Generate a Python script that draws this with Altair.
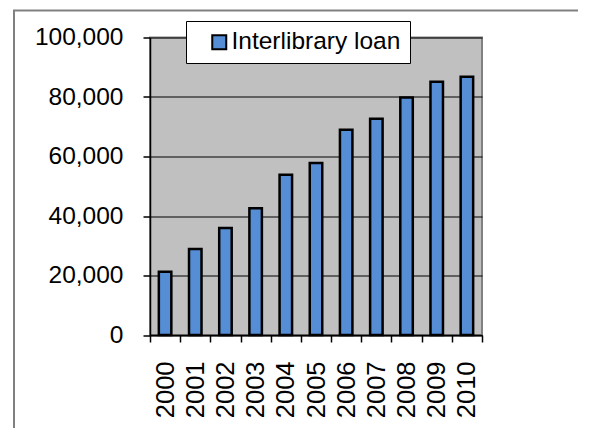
import altair as alt
import pandas as pd

years = ["2000", "2001", "2002", "2003", "2004", "2005", "2006", "2007", "2008", "2009", "2010"]
loans = [21300, 28900, 36000, 42600, 53900, 57800, 69000, 72700, 79800, 85100, 86800]
series_name = "Interlibrary loan"
y_ticks = [0, 20000, 40000, 60000, 80000, 100000]

df = pd.DataFrame({"year": years, "loans": loans, "series": [series_name] * len(years)})

FONT = "Liberation Sans"

frame = alt.Chart(pd.DataFrame({"k": [0]})).mark_rect(
    filled=False, stroke="#808080", strokeWidth=2
).encode(
    x=alt.value(-136), x2=alt.value(470), y=alt.value(-27), y2=alt.value(430)
)

bars = alt.Chart(df).mark_bar(size=12.5, stroke="black", strokeWidth=2.5).encode(
    x=alt.X(
        "year:N",
        sort=years,
        scale=alt.Scale(paddingInner=0, paddingOuter=0),
        axis=alt.Axis(
            title=None,
            labelAngle=-90,
            labelPadding=19,
            tickBand="extent",
            tickSize=7,
            grid=False,
            labelFontSize=25.5,
        ),
    ),
    y=alt.Y(
        "loans:Q",
        scale=alt.Scale(domain=[0, 100000], nice=False),
        axis=alt.Axis(
            title=None,
            values=y_ticks,
            format=",.0f",
            tickSize=7,
            labelPadding=20,
            grid=True,
            labelFontSize=24.5,
        ),
    ),
    color=alt.Color(
        "series:N",
        scale=alt.Scale(range=["#558ED5"]),
        legend=alt.Legend(
            title=None,
            orient="none",
            legendX=36,
            legendY=-16.5,
            fillColor="white",
            strokeColor="black",
            padding=9,
            symbolType="square",
            symbolSize=196,
            symbolStrokeColor="black",
            symbolStrokeWidth=2,
            symbolOffset=12,
            labelFontSize=24.5,
            labelFont=FONT,
            labelColor="black",
            labelOffset=0,
            labelLimit=400,
            labelExpr="datum.label + '\u2003'",
        ),
    ),
)

chart = alt.layer(frame, bars).properties(
    width=332,
    height=297.5,
    autosize=alt.AutoSizeParams(type="none"),
    padding={"left": 142, "top": 29.5, "right": 96, "bottom": 93},
).configure_view(
    fill="#C0C0C0", stroke="#808080", strokeWidth=2
).configure_axis(
    labelFont=FONT,
    labelColor="black",
    domainColor="black",
    domainWidth=1.5,
    tickColor="black",
    tickWidth=1.5,
    gridColor="black",
    gridWidth=1,
    gridOpacity=1,
    labelLimit=400,
).configure_legend(
    strokeWidth=1
)

chart.save("out.html", embed_options={"renderer": "svg", "actions": False})
